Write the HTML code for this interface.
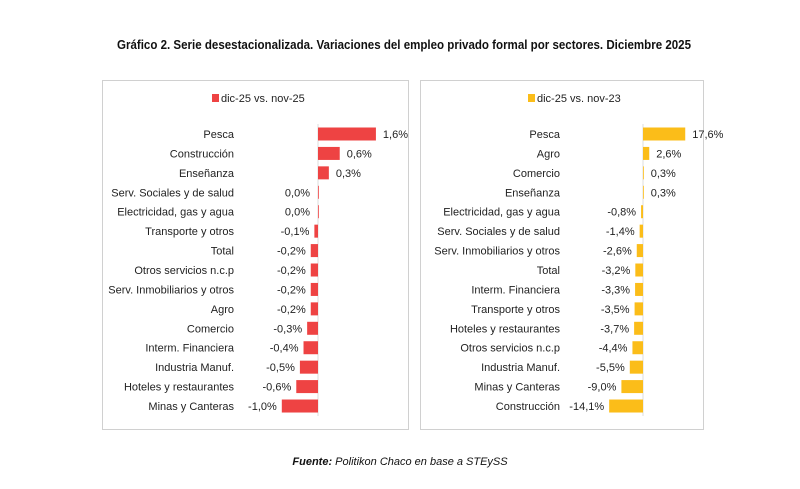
<!DOCTYPE html>
<html><head><meta charset="utf-8"><style>
body{margin:0;background:#fff;font-family:"Liberation Sans",sans-serif;}
svg text{font-family:"Liberation Sans",sans-serif;}
</style></head><body>
<svg width="800" height="484" viewBox="0 0 800 484">
<text x="117" y="49" textLength="574" lengthAdjust="spacingAndGlyphs" font-size="12.5" font-weight="bold" fill="#111">Gráfico 2. Serie desestacionalizada. Variaciones del empleo privado formal por sectores. Diciembre 2025</text>
<rect x="102.5" y="80.5" width="306" height="349" fill="#fff" stroke="#d0d0d0"/>
<rect x="420.5" y="80.5" width="283" height="349" fill="#fff" stroke="#d0d0d0"/>
<g id="left"></g><g id="right"></g>
<text x="400" y="465" text-anchor="middle" font-size="11" font-style="italic" fill="#111"><tspan font-weight="bold">Fuente:</tspan> Politikon Chaco en base a STEySS</text>
</svg>
<script>
const leftCats=["Pesca","Construcción","Enseñanza","Serv. Sociales y de salud","Electricidad, gas y agua","Transporte y otros","Total","Otros servicios n.c.p","Serv. Inmobiliarios y otros","Agro","Comercio","Interm. Financiera","Industria Manuf.","Hoteles y restaurantes","Minas y Canteras"];
const leftVals=[1.6,0.6,0.3,0.0,0.0,-0.1,-0.2,-0.2,-0.2,-0.2,-0.3,-0.4,-0.5,-0.6,-1.0];
const rightCats=["Pesca","Agro","Comercio","Enseñanza","Electricidad, gas y agua","Serv. Sociales y de salud","Serv. Inmobiliarios y otros","Total","Interm. Financiera","Transporte y otros","Hoteles y restaurantes","Otros servicios n.c.p","Industria Manuf.","Minas y Canteras","Construcción"];
const rightVals=[17.6,2.6,0.3,0.3,-0.8,-1.4,-2.6,-3.2,-3.3,-3.5,-3.7,-4.4,-5.5,-9.0,-14.1];
const NS="http://www.w3.org/2000/svg";
function mk(g,tag,attrs,txt){const e=document.createElementNS(NS,tag);for(const k in attrs)e.setAttribute(k,attrs[k]);if(txt!=null)e.textContent=txt;g.appendChild(e);return e;}
function draw(gid,cats,vals,zero,scale,labelX,color,legendX,legendText,side){
 const g=document.getElementById(gid);
 const sq=mk(g,'rect',{x:legendX,y:94,width:7,height:8,fill:color});
 
 
 const lt=mk(g,'text',{x:legendX+9,y:102,'font-size':11,fill:'#222'},legendText);
 
 
 const y0=134,step=19.43;
 const ax=mk(g,'line',{x1:zero,x2:zero,y1:124,y2:416,stroke:'#ddd'});
 
 
 cats.forEach((c,i)=>{
  const y=y0+i*step,v=vals[i];
  const t=mk(g,'text',{x:labelX,y:y+4,'text-anchor':'end','font-size':11,fill:'#222'},c);
  
  
  const w=Math.abs(v)*scale;const bx=v>=0?zero:zero-w;
  const b=mk(g,'rect',{x:bx,y:y-6.5,width:Math.max(w,0.8),height:13,fill:color});
  
  
  const s=v.toFixed(1).replace('.',',')+'%';
  let vt;
  if(v>0) vt=mk(g,'text',{x:zero+w+7,y:y+4,'font-size':11,fill:'#222'},s);
  else vt=mk(g,'text',{x:zero-w-(v===0?8:5),y:y+4,'text-anchor':'end','font-size':11,fill:'#222'},s);
  
  
 });
}
draw('left',leftCats,leftVals,318,36.2,234,'#ee4343',212,'dic-25 vs. nov-25','left');
draw('right',rightCats,rightVals,643,2.4,560,'#fbbd19',528,'dic-25 vs. nov-23','right');
</script>
</body></html>
